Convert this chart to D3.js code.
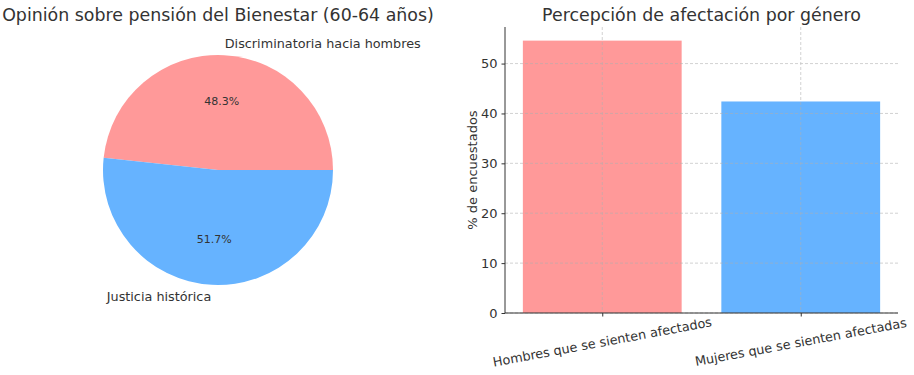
<!DOCTYPE html>
<html>
<head>
<meta charset="utf-8">
<script src="https://cdn.jsdelivr.net/npm/d3@7"></script>
<style>
    body { margin: 0; background: #fff; }
    text { font-family: "DejaVu Sans", sans-serif; fill: #333; }
</style>
</head>
<body>
<svg id="chart" width="914" height="375"></svg>
<script>
// pie data
const pieLabels = ['Discriminatoria hacia hombres', 'Justicia histórica'];
const pieValues = [48.3, 51.7];
const pieColors = ['#ff9999', '#66b3ff'];

// bar data
const barCategories = ['Hombres que se sienten afectados', 'Mujeres que se sienten afectadas'];
const barValues = [54.6, 42.4];
const barColors = ['#ff9999', '#66b3ff'];
const yTicks = [0, 10, 20, 30, 40, 50];

const svg = d3.select('#chart');

// ---- pie ----
let cx = 218, cy = 170, r = 115;
let pieG = svg.append('g').attr('transform', 'translate(' + cx + ',' + cy + ')');

// matplotlib style: start at 3 o'clock, go counterclockwise
let pie = d3.pie().sort(null).startAngle(Math.PI / 2).endAngle(Math.PI / 2 - 2 * Math.PI);
let arcs = pie(pieValues);
let arc = d3.arc().innerRadius(0).outerRadius(r);

pieG.selectAll('path')
    .data(arcs)
    .enter()
    .append('path')
    .attr('d', arc)
    .attr('fill', (d, i) => pieColors[i]);

arcs.forEach((d, i) => {
    let mid = (d.startAngle + d.endAngle) / 2; // d3 angle, clockwise from top
    let sx = Math.sin(mid), sy = -Math.cos(mid);
    pieG.append('text')
        .attr('x', 1.1 * r * sx)
        .attr('y', 1.1 * r * sy)
        .attr('dy', '0.35em')
        .attr('text-anchor', sx > 0 ? 'start' : 'end')
        .style('font-size', '12.8px')
        .text(pieLabels[i]);
    pieG.append('text')
        .attr('x', 0.6 * r * sx)
        .attr('y', 0.6 * r * sy)
        .attr('dy', '0.35em')
        .attr('text-anchor', 'middle')
        .style('font-size', '11px')
        .text(d3.format('.1f')(pieValues[i] / d3.sum(pieValues) * 100) + '%');
});

svg.append('text')
    .attr('x', cx)
    .attr('y', 21)
    .attr('text-anchor', 'middle')
    .style('font-size', '17.4px')
    .text('Opinión sobre pensión del Bienestar (60-64 años)');

// ---- bars ----
let plotLeft = 505, plotRight = 898, plotTop = 27, plotBottom = 313;
let n = barCategories.length;
let x = d3.scaleLinear().domain([-0.4 - 0.09, n - 1 + 0.4 + 0.09]).range([plotLeft, plotRight]);
let y = d3.scaleLinear().domain([0, d3.max(barValues) * 1.05]).range([plotBottom, plotTop]);
let bw = x(0.8) - x(0);

let barG = svg.append('g');
barG.selectAll('rect')
    .data(barValues)
    .enter()
    .append('rect')
    .attr('x', (d, i) => x(i) - bw / 2)
    .attr('y', d => y(d))
    .attr('width', bw)
    .attr('height', d => y(0) - y(d))
    .attr('fill', (d, i) => barColors[i]);

// grid on top of bars
let grid = svg.append('g')
    .attr('stroke', '#b0b0b0')
    .attr('stroke-width', 0.8)
    .attr('stroke-dasharray', '3,2')
    .attr('opacity', 0.7);
yTicks.forEach(t => {
    grid.append('line').attr('x1', plotLeft).attr('x2', plotRight).attr('y1', y(t)).attr('y2', y(t));
});
barCategories.forEach((c, i) => {
    grid.append('line').attr('x1', x(i)).attr('x2', x(i)).attr('y1', plotTop).attr('y2', plotBottom);
});

// y axis
let yAxis = svg.append('g')
    .attr('transform', 'translate(' + plotLeft + ',0)')
    .call(d3.axisLeft(y).tickValues(yTicks).tickSize(3.5).tickPadding(4));
yAxis.select('.domain').attr('d', 'M0,' + plotTop + 'V' + plotBottom).attr('stroke', '#333');
yAxis.selectAll('.tick line').attr('stroke', '#333');
yAxis.selectAll('.tick text').style('font-size', '13px').style('font-family', '"DejaVu Sans", sans-serif').attr('fill', '#333');

// x axis
let xAxis = svg.append('g')
    .attr('transform', 'translate(0,' + plotBottom + ')')
    .call(d3.axisBottom(x).tickValues(d3.range(n)).tickSize(3.5).tickFormat(''));
xAxis.select('.domain').attr('d', 'M' + plotLeft + ',0H' + plotRight).attr('stroke', '#333');
xAxis.selectAll('.tick line').attr('stroke', '#333');

barCategories.forEach((c, i) => {
    svg.append('text')
        .attr('transform', 'translate(' + x(i) + ',342) rotate(-10.5)')
        .attr('text-anchor', 'middle')
        .attr('dy', '0.35em')
        .style('font-size', '12.8px')
        .text(c);
});

svg.append('text')
    .attr('transform', 'translate(477,' + ((plotTop + plotBottom) / 2) + ') rotate(-90)')
    .attr('text-anchor', 'middle')
    .style('font-size', '13px')
    .text('% de encuestados');

svg.append('text')
    .attr('x', (plotLeft + plotRight) / 2)
    .attr('y', 21)
    .attr('text-anchor', 'middle')
    .style('font-size', '17.4px')
    .text('Percepción de afectación por género');
</script>
</body>
</html>
